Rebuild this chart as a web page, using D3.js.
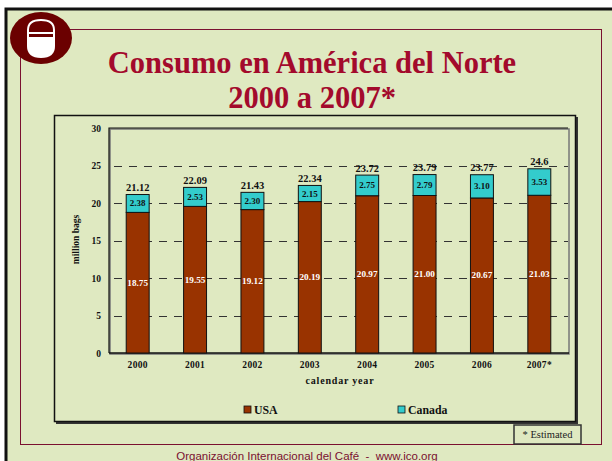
<!DOCTYPE html>
<html>
<head>
<meta charset="utf-8">
<script src="https://cdn.jsdelivr.net/npm/d3@7"></script>
<style>
  body { margin: 0; background: #fff; }
  svg { display: block; }
</style>
</head>
<body>
<svg id="chart" width="612" height="461"></svg>
<script>
// chart values
const years = ["2000", "2001", "2002", "2003", "2004", "2005", "2006", "2007*"];
const usa = [18.75, 19.55, 19.12, 20.19, 20.97, 21.00, 20.67, 21.03];
const canada = [2.38, 2.53, 2.30, 2.15, 2.75, 2.79, 3.10, 3.53];
const totalLabels = ["21.12", "22.09", "21.43", "22.34", "23.72", "23.79", "23.77", "24.6"];
const yTicks = [0, 5, 10, 15, 20, 25, 30];
const seriesNames = ["USA", "Canada"];
const seriesColors = ["#993300", "#33cccc"];

const svg = d3.select('#chart');
const serif = "'Liberation Serif', 'Times New Roman', serif";
const bg = '#dfe9c1';

// slide background + frames
svg.append('rect').attr('x', 0).attr('y', 0).attr('width', 612).attr('height', 461).attr('fill', '#fff');
svg.append('rect').attr('x', 6).attr('y', 9).attr('width', 612).attr('height', 460)
  .attr('fill', bg).attr('stroke', '#111').attr('stroke-width', 3);
svg.append('rect').attr('x', 20.5).attr('y', 29.5).attr('width', 581).attr('height', 415)
  .attr('fill', 'none').attr('stroke', '#7a1030').attr('stroke-width', 1);

// logo
const logo = svg.append('g').attr('transform', 'translate(41,38)');
logo.append('ellipse').attr('rx', 31).attr('ry', 26).attr('fill', '#6b0000');
logo.append('path')
  .attr('d', 'M-13,0 L-13,-8 Q-13,-18 0,-18 Q13,-18 13,-8 L13,0')
  .attr('fill', 'none').attr('stroke', '#fff').attr('stroke-width', 2);
logo.append('line').attr('x1', -13).attr('x2', 13).attr('y1', -5).attr('y2', -5)
  .attr('stroke', '#fff').attr('stroke-width', 2);
logo.append('path')
  .attr('d', 'M-14,-1 L14,-1 L14,8 Q14,20 0,20 Q-14,20 -14,8 Z')
  .attr('fill', '#fff');

// title
const title = svg.append('text').attr('text-anchor', 'middle')
  .attr('font-family', serif).attr('font-weight', 'bold').attr('font-size', 30.5)
  .attr('fill', '#a30a2c');
title.append('tspan').attr('x', 312).attr('y', 73).text('Consumo en América del Norte');
title.append('tspan').attr('x', 312).attr('y', 108).text('2000 a 2007*');

// chart box with shadow
svg.append('rect').attr('x', 56).attr('y', 117).attr('width', 522).attr('height', 307).attr('fill', '#333');
svg.append('rect').attr('x', 54.5).attr('y', 115.5).attr('width', 521).attr('height', 306)
  .attr('fill', bg).attr('stroke', '#111').attr('stroke-width', 1.5);

// plot area
const plot = { left: 109, top: 128, right: 568, bottom: 353 };
const x = d3.scaleBand().domain(years).range([plot.left, plot.right]).paddingInner(0.6).paddingOuter(0.3);
const y = d3.scaleLinear().domain([0, 30]).range([plot.bottom, plot.top]);

svg.append('rect').attr('x', plot.left + 1).attr('y', plot.top + 1)
  .attr('width', plot.right - plot.left).attr('height', plot.bottom - plot.top)
  .attr('fill', 'none').attr('stroke', '#777').attr('stroke-width', 1.5);
svg.append('path')
  .attr('d', `M${plot.left},${plot.bottom}V${plot.top}H${plot.right}`)
  .attr('fill', 'none').attr('stroke', '#111').attr('stroke-width', 1.2);

// grid lines
svg.append('g').selectAll('line').data(yTicks.filter(t => t > 0 && t < 30)).join('line')
  .attr('x1', plot.left).attr('x2', plot.right)
  .attr('y1', d => Math.round(y(d)) + 0.5).attr('y2', d => Math.round(y(d)) + 0.5)
  .attr('stroke', '#333').attr('stroke-width', 1).attr('stroke-dasharray', '8,7')
  .attr('stroke-dashoffset', -5);

// y axis
const yAxis = svg.append('g').attr('transform', `translate(${plot.left},0)`)
  .call(d3.axisLeft(y).tickValues(yTicks).tickSize(0).tickPadding(8));
yAxis.select('.domain').remove();
yAxis.selectAll('text').attr('font-family', serif).attr('font-weight', 'bold')
  .attr('font-size', 9.5).attr('fill', '#111');

// x axis
const xAxis = svg.append('g').attr('transform', `translate(0,${plot.bottom})`)
  .call(d3.axisBottom(x).tickSize(0).tickPadding(8));
xAxis.select('.domain').attr('stroke', '#111').attr('stroke-width', 1.5)
  .attr('d', `M${plot.left},0H${plot.right + 1}`);
xAxis.selectAll('text').attr('font-family', serif).attr('font-weight', 'bold')
  .attr('font-size', 9.5).attr('letter-spacing', 0.3).attr('fill', '#111');

// stacked bars
const rows = years.map((yr, i) => ({ year: yr, USA: usa[i], Canada: canada[i], total: totalLabels[i] }));
const stack = d3.stack().keys(seriesNames)(rows);
const bars = svg.append('g');
stack.forEach((layer, k) => {
  bars.append('g').selectAll('rect').data(layer).join('rect')
    .attr('x', d => x(d.data.year))
    .attr('y', d => y(d[1]))
    .attr('width', x.bandwidth())
    .attr('height', d => y(d[0]) - y(d[1]))
    .attr('fill', seriesColors[k])
    .attr('stroke', '#111').attr('stroke-width', 1);
});

// value labels
const labelFont = g => g.attr('font-family', serif).attr('font-weight', 'bold').attr('text-anchor', 'middle');
svg.append('g').call(labelFont).attr('font-size', 9.2).attr('fill', '#fff')
  .selectAll('text').data(stack[0]).join('text')
  .attr('x', d => x(d.data.year) + x.bandwidth() / 2)
  .attr('y', d => y((d[0] + d[1]) / 2) + 3)
  .text(d => d.data.USA.toFixed(2));
svg.append('g').call(labelFont).attr('font-size', 9).attr('fill', '#111')
  .selectAll('text').data(stack[1]).join('text')
  .attr('x', d => x(d.data.year) + x.bandwidth() / 2)
  .attr('y', d => y((d[0] + d[1]) / 2) + 3)
  .text(d => d.data.Canada.toFixed(2));
svg.append('g').call(labelFont).attr('font-size', 10.5).attr('fill', '#111')
  .selectAll('text').data(stack[1]).join('text')
  .attr('x', d => x(d.data.year) + x.bandwidth() / 2)
  .attr('y', d => y(d[1]) - 3.5)
  .text(d => d.data.total);

// axis titles
svg.append('text').attr('x', 0).attr('y', 0)
  .attr('transform', `translate(79,${(plot.top + plot.bottom) / 2 - 1}) rotate(-90)`)
  .attr('text-anchor', 'middle').attr('font-family', serif).attr('font-weight', 'bold')
  .attr('font-size', 9.5).attr('fill', '#111').text('million bags');
svg.append('text').attr('x', 340).attr('y', 384)
  .attr('text-anchor', 'middle').attr('font-family', serif).attr('font-weight', 'bold')
  .attr('font-size', 10).attr('letter-spacing', 0.8).attr('fill', '#111').text('calendar year');

// legend
const legendX = [244, 398];
const legend = svg.append('g').selectAll('g').data(seriesNames).join('g')
  .attr('transform', (d, i) => `translate(${legendX[i]},406)`);
legend.append('rect').attr('width', 7).attr('height', 7)
  .attr('fill', (d, i) => seriesColors[i]).attr('stroke', '#111').attr('stroke-width', 0.8);
legend.append('text').attr('x', 10).attr('y', 7.5)
  .attr('font-family', serif).attr('font-weight', 'bold').attr('font-size', 11.8)
  .attr('fill', '#111').text(d => d);

// estimated note
svg.append('rect').attr('x', 514).attr('y', 425).attr('width', 67).attr('height', 19)
  .attr('fill', bg).attr('stroke', '#333').attr('stroke-width', 1.5);
svg.append('text').attr('x', 547.5).attr('y', 438).attr('text-anchor', 'middle')
  .attr('font-family', serif).attr('font-size', 10.5).attr('fill', '#222').text('* Estimated');

// footer
svg.append('text').attr('x', 307).attr('y', 460).attr('text-anchor', 'middle')
  .attr('font-family', "'Liberation Sans', Arial, sans-serif").attr('font-size', 11.5)
  .style('white-space', 'pre')
  .attr('fill', '#7a1030').text('Organización Internacional del Café  -  www.ico.org');
</script>
</body>
</html>
